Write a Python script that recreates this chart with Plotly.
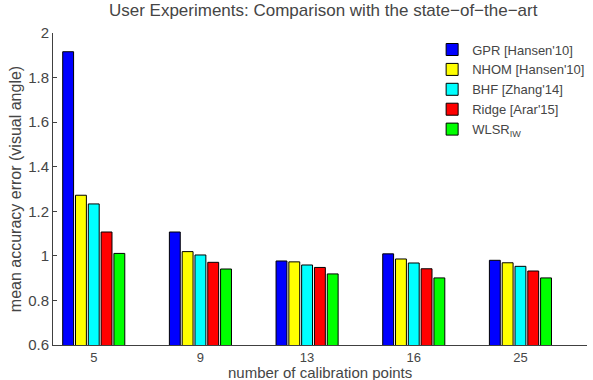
import plotly.graph_objects as go

categories = ["5", "9", "13", "16", "25"]
series_names = ["GPR [Hansen'10]", "NHOM [Hansen'10]", "BHF [Zhang'14]", "Ridge [Arar'15]", "WLSR<sub>IW</sub>"]
gpr = [1.916, 1.107, 0.977, 1.009, 0.980]
nhom = [1.272, 1.019, 0.973, 0.986, 0.969]
bhf = [1.233, 1.004, 0.959, 0.968, 0.953]
ridge = [1.107, 0.971, 0.948, 0.942, 0.932]
wlsr = [1.011, 0.941, 0.919, 0.901, 0.901]
colors = ["#0000ff", "#ffff00", "#00ffff", "#ff0000", "#00ff00"]
y_ticks = [0.6, 0.8, 1.0, 1.2, 1.4, 1.6, 1.8, 2.0]
y_tick_labels = ["0.6", "0.8", "1", "1.2", "1.4", "1.6", "1.8", "2"]

xpos = list(range(1, len(categories) + 1))
txt = "#454545"
font_family = "Liberation Sans, Arial, sans-serif"

fig = go.Figure()
for name, vals, col in zip(series_names, [gpr, nhom, bhf, ridge, wlsr], colors):
    fig.add_trace(go.Bar(
        x=xpos, y=vals, name=name,
        marker=dict(color=col, line=dict(color="black", width=1)),
    ))

fig.update_layout(
    width=593, height=380,
    margin=dict(l=53, r=3, t=33, b=35),
    paper_bgcolor="white", plot_bgcolor="white",
    font=dict(family=font_family, color=txt, size=15),
    barmode="group", bargap=0.4, bargroupgap=0.15,
    title=dict(text="User Experiments: Comparison with the state\u2212of\u2212the\u2212art",
               x=0.545, xanchor="center", y=0.99, yanchor="top",
               font=dict(size=17, color=txt)),
    legend=dict(x=0.71, y=0.995, xanchor="left", yanchor="top",
                font=dict(size=13, color=txt), bgcolor="rgba(255,255,255,0)",
                tracegroupgap=0, itemwidth=30),
    showlegend=True,
    annotations=[dict(text="number of calibration points", xref="paper", yref="paper",
                      x=0.50, y=-0.118, xanchor="center", yanchor="bottom",
                      showarrow=False, borderpad=0, font=dict(size=15, color=txt))],
)
fig.update_xaxes(
    range=[0.618, 5.624], tickvals=xpos, ticktext=categories,
    showline=True, linecolor="#404040", linewidth=1, ticks="", showgrid=False,
    zeroline=False, tickfont=dict(size=13, color=txt),
)
fig.update_yaxes(
    range=[0.6, 2.0], tickvals=y_ticks, ticktext=y_tick_labels,
    showline=True, linecolor="#404040", linewidth=1, ticks="inside", ticklen=4,
    tickcolor="#404040", showgrid=False, zeroline=False,
    tickfont=dict(size=15, color=txt),
    title=dict(text="mean accuracy error (visual angle)", font=dict(size=16, color=txt), standoff=2),
)

fig.write_html("out.html", config={"displayModeBar": False},
               post_script="document.body.style.margin='0';")
